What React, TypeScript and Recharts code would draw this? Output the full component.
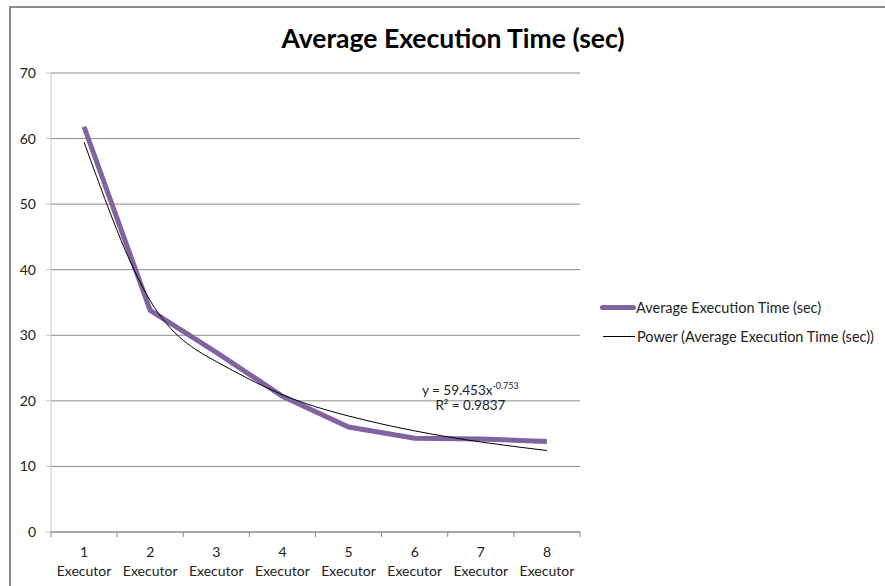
import { LineChart, Line, XAxis, YAxis, CartesianGrid } from "recharts";

// executor counts on the category axis
const executors = ["1", "2", "3", "4", "5", "6", "7", "8"];
// measured average execution time (sec)
const avgTime = [61.8, 33.8, 27.4, 20.7, 16.0, 14.3, 14.2, 13.8];
// power trendline values as plotted
const powerTrend = [59.45, 35.28, 25.99, 20.93, 17.69, 15.42, 13.73, 12.42];
const yTicks = [0, 10, 20, 30, 40, 50, 60, 70];

const data = executors.map((e, i) => ({ name: e, avg: avgTime[i], trend: powerTrend[i] }));

const FONT = "Lato, 'Open Sans', sans-serif";
const PURPLE = "#8064a2";
const W = 876;
const H = 580;
const M = { top: 65, right: 307, bottom: 6, left: 0 };
const BAND = (W - 40 - M.left - M.right) / executors.length;

const XTick = (props: any) => {
  const { x, y, payload, index } = props;
  const h = BAND / 2;
  return (
    <g>
      <line x1={x - h} x2={x - h} y1={y} y2={y + 5} stroke="#888" />
      {index === executors.length - 1 && <line x1={x + h} x2={x + h} y1={y} y2={y + 5} stroke="#888" />}
      <text x={x} y={y + 25} textAnchor="middle" fontSize={14} fill="#222" fontFamily={FONT}>
        {payload.value}
      </text>
      <text x={x} y={y + 44} textAnchor="middle" fontSize={14} fill="#222" fontFamily={FONT}>
        Executor
      </text>
    </g>
  );
};

const LegendBox = () => (
  <div
    style={{
      position: "absolute",
      left: 589,
      top: 285,
      fontFamily: FONT,
      fontSize: 14.5,
      color: "#222",
      lineHeight: "29px",
      whiteSpace: "nowrap",
    }}
  >
    <div style={{ display: "flex", alignItems: "center" }}>
      <span style={{ width: 36, height: 5, background: PURPLE, borderRadius: 3, display: "inline-block" }} />
      <span>Average Execution Time (sec)</span>
    </div>
    <div style={{ display: "flex", alignItems: "center" }}>
      <span style={{ width: 32, height: 1, background: "#000", marginLeft: 3, marginRight: 2, display: "inline-block" }} />
      <span>Power (Average Execution Time (sec))</span>
    </div>
  </div>
);

export default function App() {
  return (
    <div
      style={{
        position: "absolute",
        left: 9,
        top: 6,
        width: W + 10,
        height: H + 10,
        borderLeft: "2px solid #8c8c8c",
        borderTop: "2px solid #8c8c8c",
        background: "#fff",
        overflow: "hidden",
      }}
    >
      <div
        style={{
          position: "absolute",
          left: 0,
          width: 884,
          top: 14,
          textAlign: "center",
          fontFamily: FONT,
          fontWeight: 700,
          fontSize: 26.5,
          color: "#000",
        }}
      >
        Average Execution Time (sec)
      </div>
      <LineChart width={W} height={H} data={data} margin={M}>
        <CartesianGrid vertical={false} stroke="#8a8a8a" />
        <XAxis
          dataKey="name"
          stroke="#8a8a8a"
          tickLine={false}
          tickSize={0}
          tickMargin={0}
          height={50}
          interval={0}
          padding={{ left: BAND / 2, right: BAND / 2 }}
          tick={<XTick />}
        />
        <YAxis
          width={40}
          domain={[0, 70]}
          ticks={yTicks}
          interval={0}
          stroke="#c4c4c4"
          tickSize={5}
          tickMargin={10}
          tick={{ fill: "#222", fontSize: 14, fontFamily: FONT }}
        />
        <Line
          dataKey="avg"
          name="Average Execution Time (sec)"
          stroke={PURPLE}
          strokeWidth={5}
          dot={false}
          type="linear"
          isAnimationActive={false}
        />
        <Line
          dataKey="trend"
          name="Power (Average Execution Time (sec))"
          stroke="#000"
          strokeWidth={1}
          dot={false}
          type="natural"
          isAnimationActive={false}
        />
      </LineChart>
      <LegendBox />
      <div
        style={{
          position: "absolute",
          left: 411,
          top: 369,
          fontFamily: FONT,
          fontSize: 13.5,
          color: "#222",
          lineHeight: "18px",
          textAlign: "center",
        }}
      >
        <div>
          y = 59.453x<sup style={{ fontSize: 9 }}>-0.753</sup>
        </div>
        <div style={{ marginTop: -3 }}>R² = 0.9837</div>
      </div>
    </div>
  );
}
